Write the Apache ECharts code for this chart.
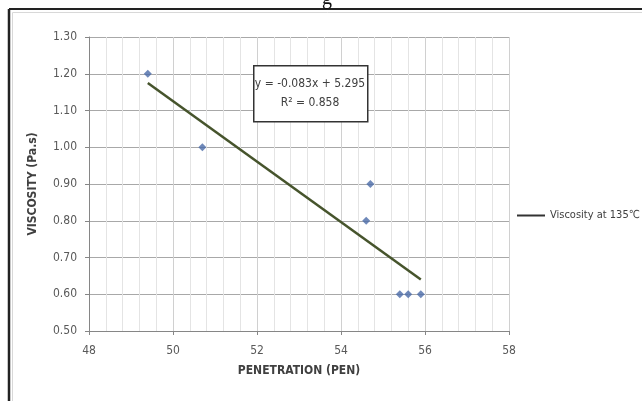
<!DOCTYPE html>
<html>
<head>
  <meta charset="UTF-8">
  <title>Viscosity vs Penetration</title>
  <style>
    html, body { margin: 0; padding: 0; background: #fff; }
    #chart { width: 642px; height: 401px; }
  </style>
</head>
<body>
  <div id="chart"></div>
  <script src="https://cdn.jsdelivr.net/npm/echarts@6/dist/echarts.min.js"></script>
  <script>
// data
const penetration = [49.4, 50.7, 54.6, 54.7, 55.4, 55.6, 55.9]
const viscosity = [1.20, 1.00, 0.80, 0.90, 0.60, 0.60, 0.60]
// trendline ends, as drawn
const trendX = [49.4, 55.9]
const trendY = [1.175, 0.640]
const xTicks = [48, 50, 52, 54, 56, 58]
const yTicks = [0.50, 0.60, 0.70, 0.80, 0.90, 1.00, 1.10, 1.20, 1.30]
const seriesName = 'Viscosity at 135\u2103'
const eqLines = ['y = -0.083x + 5.295', 'R\u00b2 = 0.858']

const font = "'DejaVu Sans Condensed', 'Open Sans', sans-serif"
const textGray = '#595959'

const chart = echarts.init(document.getElementById('chart'))
chart.setOption({
  animation: false,
  textStyle: { fontFamily: font },
  grid: { left: 89, right: 133, top: 37, bottom: 70 },
  xAxis: {
    type: 'value',
    min: xTicks[0],
    max: xTicks[xTicks.length - 1],
    interval: 2,
    name: 'PENETRATION (PEN)',
    nameLocation: 'middle',
    nameGap: 34,
    nameTextStyle: { color: '#404040', fontSize: 12, fontWeight: 'bold', fontFamily: font },
    axisLine: { lineStyle: { color: '#868686', width: 1 } },
    axisTick: { show: true, length: 4, lineStyle: { color: '#868686' } },
    axisLabel: { color: textGray, fontSize: 12, margin: 14 },
    splitLine: { show: true, lineStyle: { color: '#d0d0d0', width: 1 } },
    minorTick: { show: false, splitNumber: 5 },
    minorSplitLine: { show: true, lineStyle: { color: '#e4e4e4', width: 1 } }
  },
  yAxis: {
    type: 'value',
    min: yTicks[0],
    max: yTicks[yTicks.length - 1],
    interval: 0.1,
    name: 'VISCOSITY (Pa.s)',
    nameLocation: 'middle',
    nameGap: 50,
    nameRotate: 90,
    nameTextStyle: { color: '#404040', fontSize: 12, fontWeight: 'bold', fontFamily: font },
    axisLine: { show: true, lineStyle: { color: '#868686', width: 1 } },
    axisTick: { show: true, length: 4, lineStyle: { color: '#868686' } },
    axisLabel: { color: textGray, fontSize: 12, margin: 12, formatter: v => v.toFixed(2) },
    splitLine: { show: true, lineStyle: { color: '#a8a8a8', width: 1 } }
  },
  legend: {
    left: 512,
    top: 205,
    itemWidth: 28,
    itemHeight: 2,
    itemGap: 4,
    textStyle: { color: '#404040', fontSize: 11, fontFamily: font },
    data: [{ name: seriesName, icon: 'rect' }]
  },
  series: [
    {
      name: 'points',
      type: 'scatter',
      symbol: 'diamond',
      symbolSize: 8,
      itemStyle: { color: '#4a6aa8' },
      data: penetration.map((x, i) => [x, viscosity[i]]),
      z: 3
    },
    {
      name: seriesName,
      type: 'line',
      showSymbol: false,
      itemStyle: { color: '#333' },
      lineStyle: { color: '#46542c', width: 2.5 },
      data: trendX.map((x, i) => [x, trendY[i]]),
      z: 2
    }
  ],
  graphic: [
    { type: 'line', shape: { x1: 9, y1: 9, x2: 642, y2: 9 }, style: { stroke: '#222', lineWidth: 2 } },
    { type: 'line', shape: { x1: 9, y1: 9, x2: 9, y2: 401 }, style: { stroke: '#222', lineWidth: 2.5 } },
    { type: 'line', shape: { x1: 12.5, y1: 12.5, x2: 642, y2: 12.5 }, style: { stroke: '#d8d8d8', lineWidth: 1 } },
    { type: 'line', shape: { x1: 12.5, y1: 12.5, x2: 12.5, y2: 401 }, style: { stroke: '#d8d8d8', lineWidth: 1 } },
    {
      type: 'text', left: 322, top: -11,
      style: { text: 'g', font: '20px "Liberation Serif", serif', fill: '#111' }
    },
    {
      type: 'rect', z: 100, left: 253, top: 65,
      shape: { x: 0, y: 0, width: 114, height: 56 },
      style: { fill: '#fff', stroke: '#333', lineWidth: 1.5 }
    },
    {
      type: 'text', z: 101, x: 310, y: 84,
      style: { text: eqLines[0], align: 'center', verticalAlign: 'middle', font: '12px ' + font, fill: '#404040' }
    },
    {
      type: 'text', z: 101, x: 310, y: 103,
      style: { text: eqLines[1], align: 'center', verticalAlign: 'middle', font: '12px ' + font, fill: '#404040' }
    }
  ]
})
  </script>
</body>
</html>
